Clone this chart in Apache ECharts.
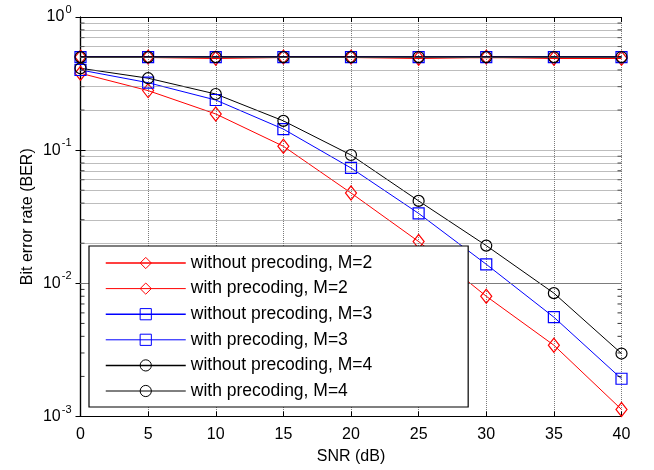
<!DOCTYPE html>
<html>
<head>
<meta charset="utf-8">
<script src="https://cdn.jsdelivr.net/npm/echarts@6/dist/echarts.min.js"></script>
<style>
html,body{margin:0;padding:0;background:#fff;}
#c{width:654px;height:470px;}
</style>
</head>
<body>
<div id="c"></div>
<script>
// ---- data ----
var snr = [0, 5, 10, 15, 20, 25, 30, 35, 40];
var withoutM2 = [0.50, 0.50, 0.49, 0.50, 0.50, 0.49, 0.50, 0.49, 0.49];
var withM2    = [0.378, 0.28, 0.187, 0.107, 0.0477, 0.0206, 0.0080, 0.00343, 0.00113];
var withoutM3 = [0.50, 0.50, 0.50, 0.50, 0.50, 0.50, 0.50, 0.50, 0.50];
var withM3    = [0.40, 0.321, 0.238, 0.144, 0.0735, 0.0335, 0.0139, 0.00557, 0.00192];
var withoutM4 = [0.50, 0.50, 0.50, 0.50, 0.50, 0.50, 0.50, 0.50, 0.50];
var withM4    = [0.412, 0.347, 0.264, 0.166, 0.092, 0.0416, 0.0192, 0.00844, 0.00297];
var seriesNames = ['without precoding, M=2', 'with precoding, M=2',
                   'without precoding, M=3', 'with precoding, M=3',
                   'without precoding, M=4', 'with precoding, M=4'];
var seriesColors = ['#ff0000', '#ff0000', '#0000ff', '#0000ff', '#000000', '#000000'];
var seriesWidths = [1.6, 1, 1.6, 1, 1.6, 1];
var minorTickValues = [0.002,0.003,0.004,0.005,0.006,0.007,0.008,0.009,
                       0.02,0.03,0.04,0.05,0.06,0.07,0.08,0.09,
                       0.2,0.3,0.4,0.5,0.6,0.7,0.8,0.9];
var xMin = 0, xMax = 40, xStep = 5;
var yMin = 0.001, yMax = 1;

function pairs(arr){ return arr.map(function(v,i){ return [snr[i], v]; }); }

var gridColor = '#7a7a7a';
var fontFam = 'Liberation Sans, Arial, sans-serif';

function mkSeries(idx, data, symbol, size){
  var color = seriesColors[idx];
  return {
    name: seriesNames[idx], type: 'line', data: pairs(data),
    symbol: symbol, symbolSize: size,
    lineStyle: {color: color, width: seriesWidths[idx]},
    itemStyle: {color: 'rgba(0,0,0,0)', borderColor: color, borderWidth: 1.2},
    emphasis: {disabled: true},
    z: 3
  };
}

var legendData = seriesNames.map(function(n, i){
  return {
    name: n,
    lineStyle: {color: seriesColors[i], width: seriesWidths[i] > 1 ? 1.5 : 1},
    itemStyle: {color: 'rgba(0,0,0,0)', borderColor: seriesColors[i], borderWidth: 1}
  };
});

var chart = echarts.init(document.getElementById('c'), null, {renderer: 'canvas'});
var option = {
  animation: false,
  backgroundColor: '#fff',
  grid: {left: 80.5, right: 32.5, top: 17, bottom: 53.5, containLabel: false},
  xAxis: [{
    type: 'value', min: xMin, max: xMax, interval: xStep,
    name: 'SNR (dB)', nameLocation: 'middle', nameGap: 32,
    nameTextStyle: {color: '#000', fontSize: 16, fontFamily: fontFam},
    axisLine: {lineStyle: {color: '#000', width: 1.2}},
    axisTick: {inside: true, length: 5, lineStyle: {color: '#000'}},
    axisLabel: {color: '#000', fontSize: 16, fontFamily: fontFam, margin: 10},
    splitLine: {show: true, lineStyle: {color: gridColor, type: [1, 1], width: 1}}
  }, {
    type: 'value', min: xMin, max: xMax, interval: xStep, position: 'top',
    axisLine: {show: true, lineStyle: {color: '#000', width: 1.2}},
    axisTick: {show: true, inside: true, length: 5, lineStyle: {color: '#000'}},
    axisLabel: {show: false}, splitLine: {show: false}
  }],
  yAxis: [{
    type: 'log', logBase: 10, min: yMin, max: yMax,
    name: 'Bit error rate (BER)', nameLocation: 'middle', nameGap: 45,
    nameMoveOverlap: false,
    nameTextStyle: {color: '#000', fontSize: 16, fontFamily: fontFam},
    axisLine: {show: true, lineStyle: {color: '#000', width: 1.2}},
    axisTick: {show: true, inside: true, length: 5, lineStyle: {color: '#000'}},
    axisLabel: {
      color: '#000', margin: 9,
      formatter: function(v){
        var e = Math.round(Math.log(v) / Math.LN10);
        return '{b|10}{s|' + e + '}';
      },
      rich: {
        b: {fontSize: 16, fontFamily: fontFam, color: '#000'},
        s: {fontSize: 11, fontFamily: fontFam, color: '#000', padding: [0, 0, 14, 1]}
      }
    },
    splitLine: {show: true, lineStyle: {color: gridColor, type: [1, 1], width: 1}}
  }, {
    type: 'log', logBase: 10, min: yMin, max: yMax, position: 'right',
    axisLine: {show: true, lineStyle: {color: '#000', width: 1.2}},
    axisTick: {show: true, inside: true, length: 5, lineStyle: {color: '#000'}},
    axisLabel: {show: false}, splitLine: {show: false}
  }],
  legend: {
    data: legendData,
    orient: 'vertical', left: 89, top: 246,
    backgroundColor: '#fff', borderColor: '#000', borderWidth: 1.2,
    padding: [8, 96, 7, 16],
    itemWidth: 80, itemHeight: 14, itemGap: 7.6,
    textStyle: {color: '#000', fontSize: 17.5, fontFamily: fontFam},
    selectedMode: false, z: 10
  },
  series: [
    {
      name: 'minorLeft', type: 'scatter', silent: true,
      data: minorTickValues.map(function(v){ return [xMin, v]; }),
      symbol: 'rect', symbolSize: [4, 1], symbolOffset: [2, 0],
      itemStyle: {color: '#000'}, z: 4,
      markLine: {
        silent: true, symbol: ['none', 'none'], label: {show: false},
        lineStyle: {color: gridColor, type: [1, 1], width: 1},
        data: minorTickValues.map(function(v){ return {yAxis: v}; })
      }
    },
    {
      name: 'minorRight', type: 'scatter', silent: true,
      data: minorTickValues.map(function(v){ return [xMax, v]; }),
      symbol: 'rect', symbolSize: [4, 1], symbolOffset: [-2, 0],
      itemStyle: {color: '#000'}, z: 4
    },
    mkSeries(0, withoutM2, 'diamond', [11, 14]),
    mkSeries(1, withM2, 'diamond', [11, 14]),
    mkSeries(2, withoutM3, 'rect', 11),
    mkSeries(3, withM3, 'rect', 11),
    mkSeries(4, withoutM4, 'circle', 11),
    mkSeries(5, withM4, 'circle', 11)
  ]
};
chart.setOption(option);
</script>
</body>
</html>
